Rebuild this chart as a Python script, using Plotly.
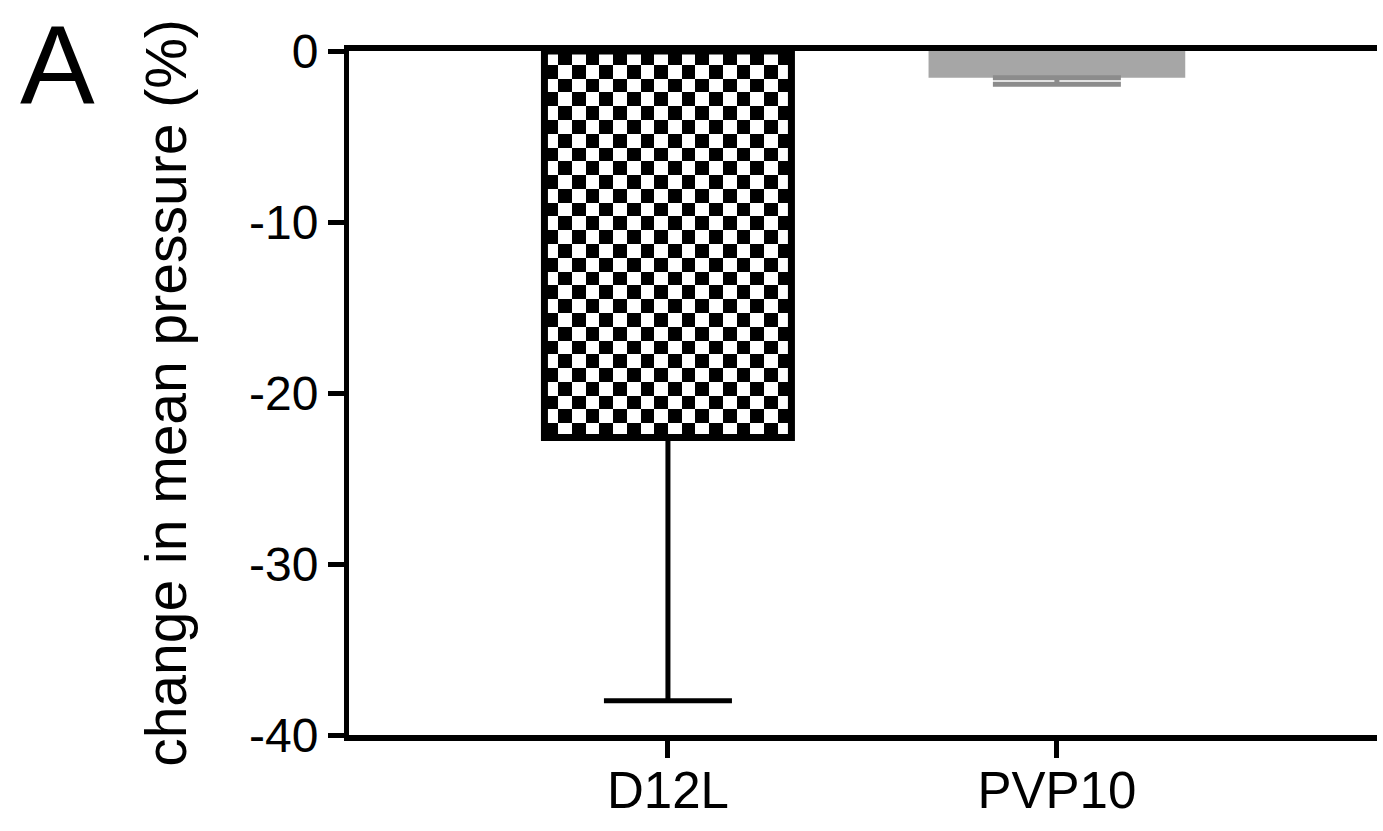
import numpy as np
import plotly.graph_objects as go

# Data
categories = ["D12L", "PVP10"]
mean_change = [-22.6, -1.57]     # mean change in pressure (%)
sem_change = [15.4, 0.38]        # error (downward) for each group
y_ticks = [0, -10, -20, -30, -40]

FONT = "Liberation Sans, Arial, Helvetica, sans-serif"
BAR_W = 0.635
BORDER = 7
GRAY = "#a6a6a6"
GRAY_ERR = "#8c8c8c"

xpos = list(range(len(categories)))

fig = go.Figure()

# Checkerboard fill for the D12L bar (built from its mean and bar width)
n_cols = 18
n_rows = 28
dx = BAR_W / n_cols
dy = mean_change[0] / n_rows
cx = xpos[0] - BAR_W / 2 + (np.arange(n_cols) + 0.5) * dx
cy = (np.arange(n_rows) + 0.5) * dy
ii, jj = np.meshgrid(np.arange(n_cols), np.arange(n_rows))
board = ((ii + jj) % 2).astype(float)
fig.add_trace(go.Heatmap(
    x=cx, y=cy, z=board,
    colorscale=[[0, "white"], [1, "black"]], zmin=0, zmax=1,
    showscale=False, hoverinfo="skip", zsmooth=False,
))

# D12L bar: outline only, with downward error bar
fig.add_trace(go.Bar(
    x=[xpos[0]], y=[mean_change[0]], width=BAR_W,
    marker=dict(color="rgba(0,0,0,0)", line=dict(color="black", width=BORDER)),
    error_y=dict(type="data", symmetric=False, array=[0], arrayminus=[sem_change[0]],
                 color="black", thickness=5, width=64),
    showlegend=False,
))

# PVP10 bar: solid gray
fig.add_trace(go.Bar(
    x=[xpos[1]], y=[mean_change[1]], width=0.66,
    marker=dict(color=GRAY, line=dict(width=0)),
    error_y=dict(type="data", symmetric=False, array=[0], arrayminus=[sem_change[1]],
                 color=GRAY_ERR, thickness=5, width=64),
    showlegend=False,
))

fig.update_layout(
    width=1383, height=831,
    margin=dict(l=349, r=6, t=51, b=96, autoexpand=False),
    paper_bgcolor="white", plot_bgcolor="white",
    barmode="overlay",
    showlegend=False,
    font=dict(family=FONT, color="black"),
    xaxis=dict(
        range=[-0.820, 1.823],
        tickmode="array", tickvals=xpos, ticktext=categories,
        ticks="outside", ticklen=17, tickwidth=5, tickcolor="black",
        tickfont=dict(size=51, family=FONT, color="black"),
        ticklabelstandoff=-11,
        showline=True, linewidth=6, linecolor="black", mirror=True,
        showgrid=False, zeroline=False,
    ),
    yaxis=dict(
        range=[-40, 0],
        tickmode="array", tickvals=y_ticks, ticktext=[str(v) for v in y_ticks],
        ticks="outside", ticklen=16, tickwidth=5, tickcolor="black",
        tickfont=dict(size=48, family=FONT, color="black"),
        showline=True, linewidth=5, linecolor="black",
        showgrid=False, zeroline=False,
        title=dict(text="change in mean pressure (%)", standoff=46,
                   font=dict(size=57, family=FONT, color="black")),
    ),
    annotations=[dict(
        text="A", xref="paper", yref="paper", x=-0.284, y=0.98,
        xanchor="center", yanchor="middle", showarrow=False,
        font=dict(size=112, family=FONT, color="black"),
    )],
)

fig.write_html("out.html")
